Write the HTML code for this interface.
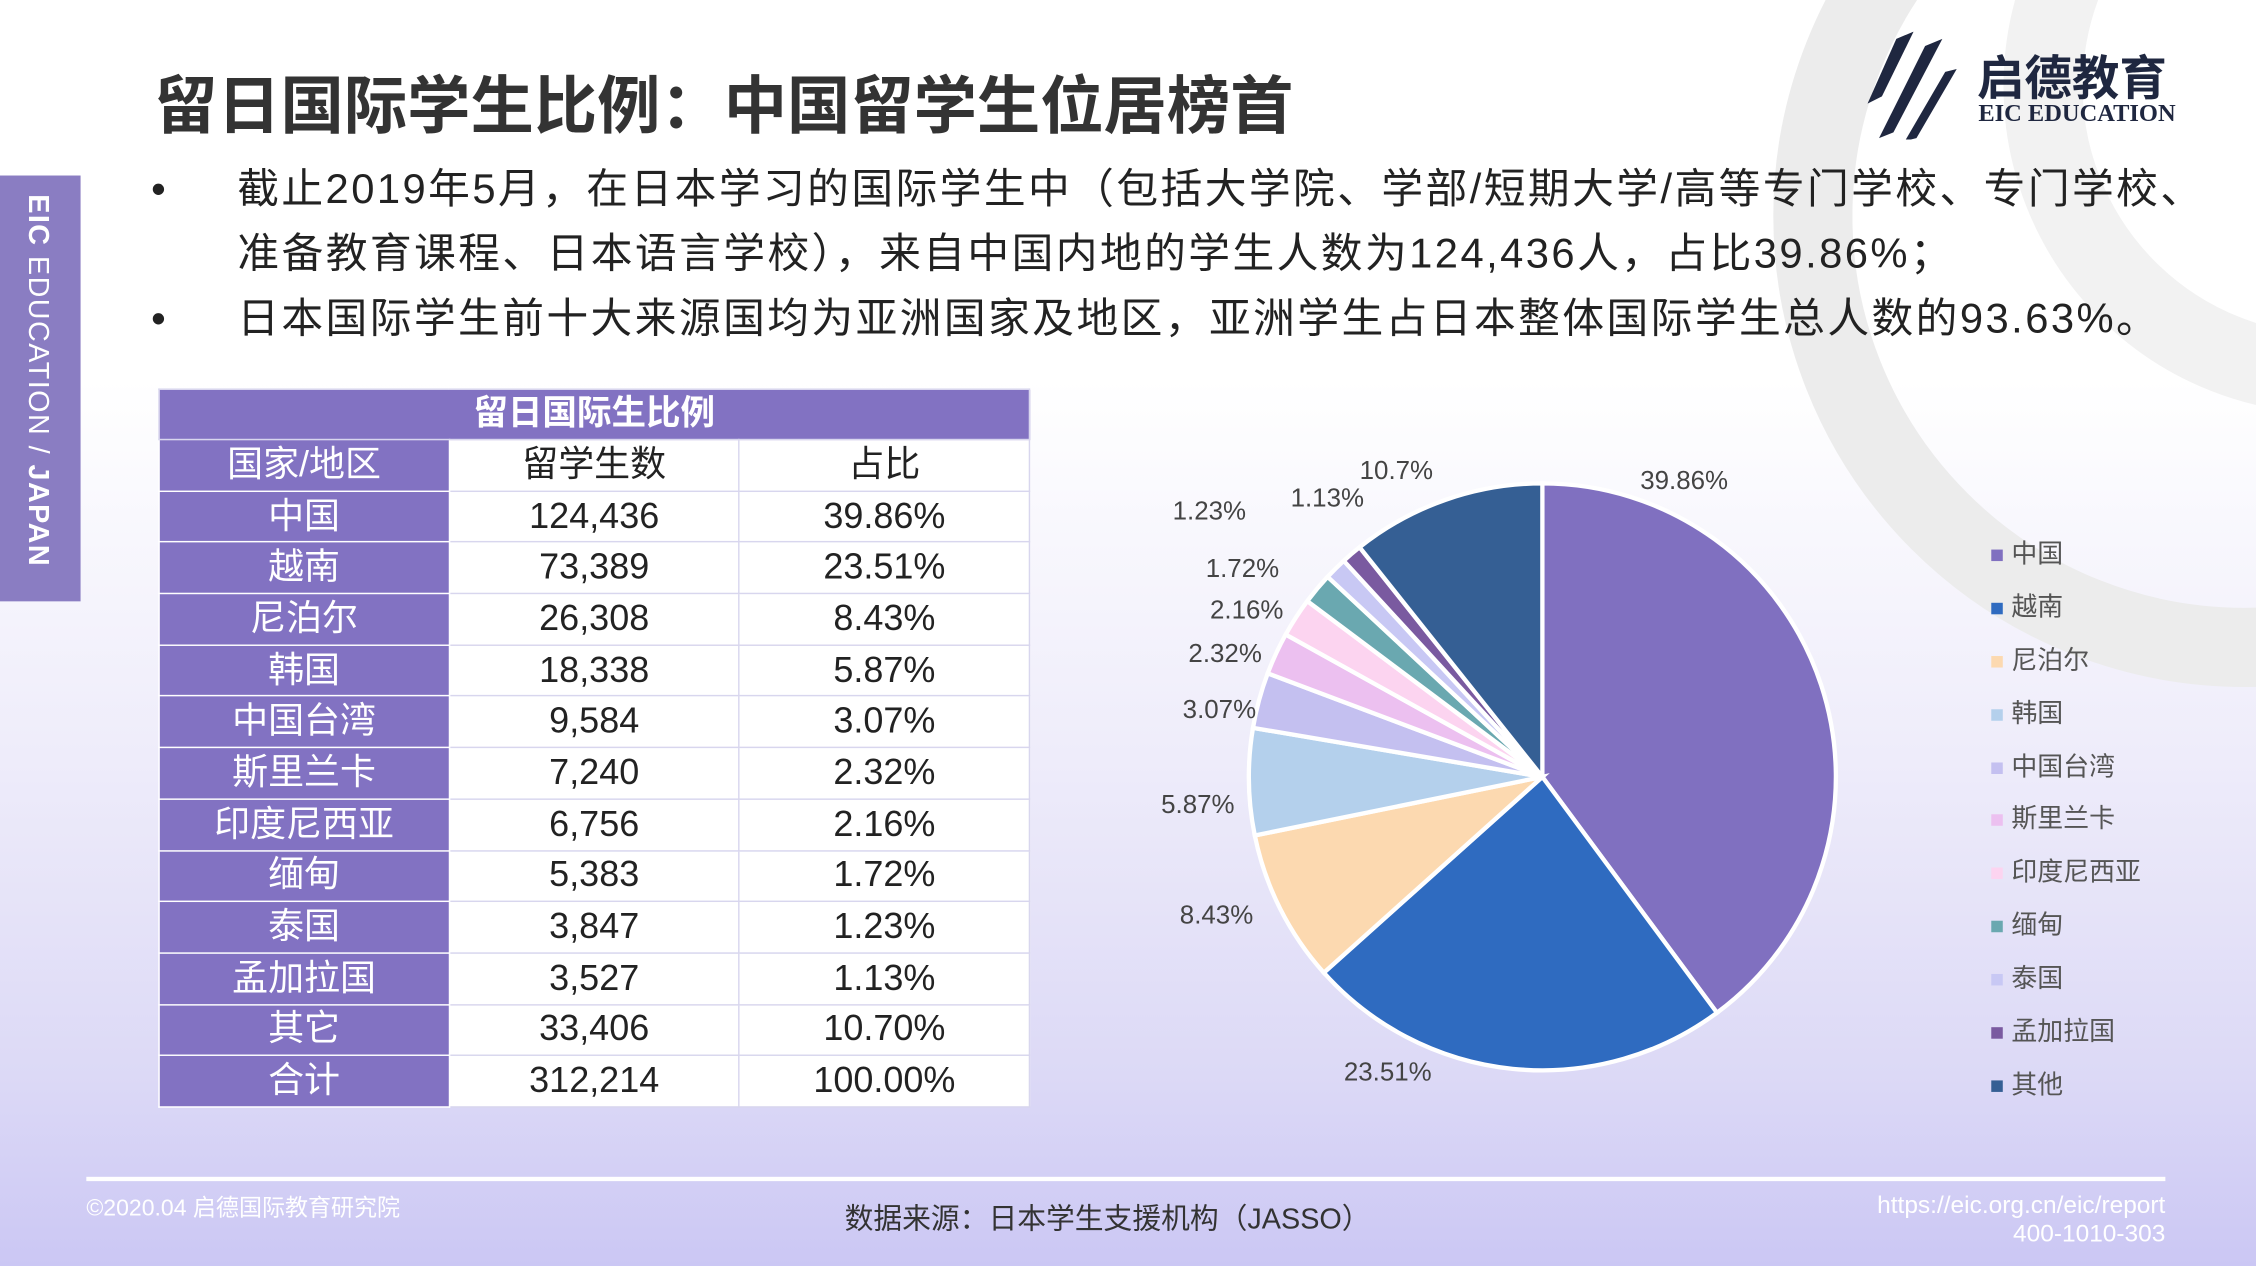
<!DOCTYPE html>
<html><head><meta charset="utf-8">
<style>
html,body{margin:0;padding:0;}
body{width:2256px;height:1266px;overflow:hidden;font-family:"Liberation Sans","Noto Sans CJK SC",sans-serif;}
#s{position:absolute;left:0;top:0;width:1568px;height:880px;transform:scale(1.43878,1.43864);transform-origin:0 0;
background:linear-gradient(#ffffff 0%,#ffffff 30%,#eeecfa 60%,#dcd9f6 85%,#cbc7f4 100%);overflow:hidden;}
.a{position:absolute;white-space:nowrap;}
table{border-collapse:collapse;position:absolute;left:110px;top:270px;width:606px;table-layout:fixed;}
td{height:34.7px;border:1px solid #d8d6ee;text-align:center;font-size:25px;color:#222;padding:0;background:#fff;line-height:1;}
td.p{background:#8272c2;color:#fff;border-color:#fff;}
tr.h td{background:#8272c2;color:#fff;font-weight:bold;font-size:24px;height:34px;}
.lg{position:absolute;left:1384px;font-size:18px;color:#555;}
.lg i{display:inline-block;width:8px;height:8px;margin-right:6px;vertical-align:middle;}
.pl{position:absolute;font-size:18px;color:#444;}
</style></head><body><div id="s">
<svg class="a" style="left:0;top:0" width="1568" height="880">
<g fill="none" stroke="#ececec" stroke-width="55">
<circle cx="1560" cy="150" r="300"/>
<circle cx="1620" cy="60" r="200" stroke="#f2f2f2"/>
</g>
</svg>
<div class="a" style="left:0;top:122px;width:56px;height:296px;background:#8a7dc2;"></div>
<div class="a" style="left:14px;top:135px;writing-mode:vertical-rl;color:#fff;font-size:20px;letter-spacing:1px;"><b>EIC</b> EDUCATION / <b>JAPAN</b></div>
<div class="a" style="left:107px;top:38px;font-size:44px;font-weight:bold;color:#333;">留日国际学生比例：中国留学生位居榜首</div>
<svg class="a" style="left:1288px;top:22px" width="72" height="75"><g fill="#1f2740"><polygon points="30,5 42,0 20,45 10,50"/><polygon points="50,10 62,5 28,70 18,74"/><polygon points="64,28 72,26 44,74 36,76"/></g></svg>
<div class="a" style="left:1374px;top:28px;font-size:33px;font-weight:bold;color:#1f2740;">启德教育</div>
<div class="a" style="left:1375px;top:69px;font-size:17px;font-weight:bold;color:#1f2740;font-family:'Liberation Serif',serif;">EIC EDUCATION</div>
<div class="a" style="left:105px;top:110px;font-size:29px;color:#222;line-height:45px;letter-spacing:1.7px;">
<div>•<span style="margin-left:48px">截止2019年5月，在日本学习的国际学生中（包括大学院、学部/短期大学/高等专门学校、专门学校、</span></div>
<div style="margin-left:60px">准备教育课程、日本语言学校），来自中国内地的学生人数为124,436人，占比39.86%；</div>
<div>•<span style="margin-left:48px">日本国际学生前十大来源国均为亚洲国家及地区，亚洲学生占日本整体国际学生总人数的93.63%。</span></div>
</div>
<table>
<tr class="h"><td colspan="3">留日国际生比例</td></tr>
<tr><td class="p">国家/地区</td><td>留学生数</td><td>占比</td></tr>
<tr><td class="p">中国</td><td>124,436</td><td>39.86%</td></tr>
<tr><td class="p">越南</td><td>73,389</td><td>23.51%</td></tr>
<tr><td class="p">尼泊尔</td><td>26,308</td><td>8.43%</td></tr>
<tr><td class="p">韩国</td><td>18,338</td><td>5.87%</td></tr>
<tr><td class="p">中国台湾</td><td>9,584</td><td>3.07%</td></tr>
<tr><td class="p">斯里兰卡</td><td>7,240</td><td>2.32%</td></tr>
<tr><td class="p">印度尼西亚</td><td>6,756</td><td>2.16%</td></tr>
<tr><td class="p">缅甸</td><td>5,383</td><td>1.72%</td></tr>
<tr><td class="p">泰国</td><td>3,847</td><td>1.23%</td></tr>
<tr><td class="p">孟加拉国</td><td>3,527</td><td>1.13%</td></tr>
<tr><td class="p">其它</td><td>33,406</td><td>10.70%</td></tr>
<tr><td class="p">合计</td><td>312,214</td><td>100.00%</td></tr>
</table>
<svg class="a" style="left:0;top:0" width="1568" height="880" id="pie"></svg>
<div class="pl" style="left:1140px;top:324px">39.86%</div>
<div class="pl" style="left:945px;top:317px">10.7%</div>
<div class="pl" style="left:897px;top:336px">1.13%</div>
<div class="pl" style="left:815px;top:345px">1.23%</div>
<div class="pl" style="left:838px;top:385px">1.72%</div>
<div class="pl" style="left:841px;top:414px">2.16%</div>
<div class="pl" style="left:826px;top:444px">2.32%</div>
<div class="pl" style="left:822px;top:483px">3.07%</div>
<div class="pl" style="left:807px;top:549px">5.87%</div>
<div class="pl" style="left:820px;top:626px">8.43%</div>
<div class="pl" style="left:934px;top:735px">23.51%</div>
<div class="lg" style="top:371px"><i style="background:#8070c0"></i>中国</div>
<div class="lg" style="top:408px"><i style="background:#2f6bc0"></i>越南</div>
<div class="lg" style="top:445px"><i style="background:#fcd9b0"></i>尼泊尔</div>
<div class="lg" style="top:482px"><i style="background:#b4d0ec"></i>韩国</div>
<div class="lg" style="top:519px"><i style="background:#c4c0f0"></i>中国台湾</div>
<div class="lg" style="top:555px"><i style="background:#ecc0f0"></i>斯里兰卡</div>
<div class="lg" style="top:592px"><i style="background:#fcd4f0"></i>印度尼西亚</div>
<div class="lg" style="top:629px"><i style="background:#6aa8b0"></i>缅甸</div>
<div class="lg" style="top:666px"><i style="background:#c8c8f4"></i>泰国</div>
<div class="lg" style="top:703px"><i style="background:#7a5aa0"></i>孟加拉国</div>
<div class="lg" style="top:740px"><i style="background:#355f94"></i>其他</div>
<div class="a" style="left:60px;top:818px;width:1445px;height:3px;background:#fff;"></div>
<div class="a" style="left:60px;top:826px;font-size:16px;color:#fff;">©2020.04 启德国际教育研究院</div>
<div class="a" style="left:587px;top:831px;font-size:20px;color:#333;">数据来源：日本学生支援机构（JASSO）</div>
<div class="a" style="left:1200px;top:828px;width:305px;text-align:right;font-size:17px;color:#fff;line-height:20px;">https://eic.org.cn/eic/report<br>400-1010-303</div>
</div>
<script>
var d=[[39.86,'#8070c0'],[23.51,'#2f6bc0'],[8.43,'#fcd9b0'],[5.87,'#b4d0ec'],[3.07,'#c4c0f0'],[2.32,'#ecc0f0'],[2.16,'#fcd4f0'],[1.72,'#6aa8b0'],[1.23,'#c8c8f4'],[1.13,'#7a5aa0'],[10.7,'#355f94']];
var cx=1072,cy=540,r=204,a=0,s='';
d.forEach(function(e){var a2=a+e[0]/100*Math.PI*2;
var x1=cx+r*Math.sin(a),y1=cy-r*Math.cos(a),x2=cx+r*Math.sin(a2),y2=cy-r*Math.cos(a2);
s+='<path d="M'+cx+','+cy+'L'+x1+','+y1+'A'+r+','+r+' 0 '+(a2-a>Math.PI?1:0)+' 1 '+x2+','+y2+'Z" fill="'+e[1]+'" stroke="#fff" stroke-width="3"/>';a=a2;});
document.getElementById('pie').innerHTML=s;
</script>
</body></html>
